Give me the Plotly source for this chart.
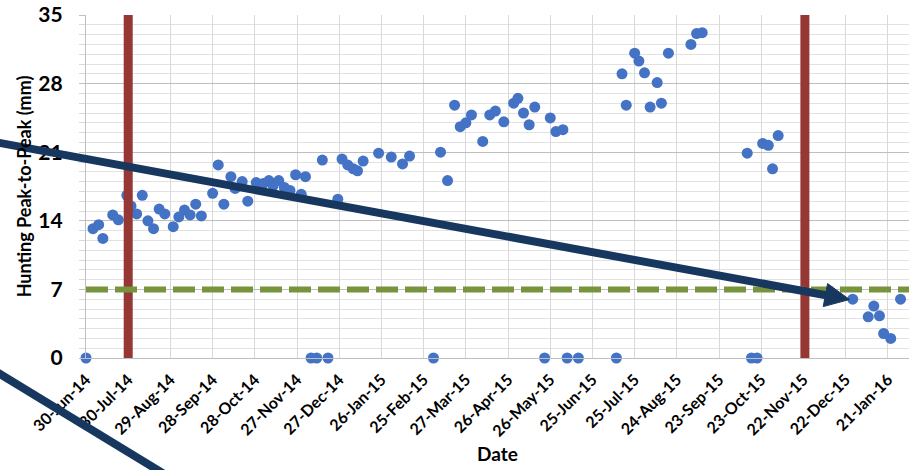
import pandas as pd
import plotly.graph_objects as go

# Measured hunting amplitude per inspection date
dates = [
    "2014-06-30", "2014-07-05", "2014-07-09", "2014-07-12", "2014-07-19", "2014-07-23",
    "2014-07-29", "2014-08-01", "2014-08-05", "2014-08-09", "2014-08-13", "2014-08-17",
    "2014-08-21", "2014-08-25", "2014-08-31", "2014-09-04", "2014-09-08", "2014-09-12",
    "2014-09-16", "2014-09-20", "2014-09-28", "2014-10-02", "2014-10-06", "2014-10-11",
    "2014-10-14", "2014-10-19", "2014-10-23", "2014-10-29", "2014-11-03", "2014-11-07",
    "2014-11-10", "2014-11-14", "2014-11-18", "2014-11-22", "2014-11-26", "2014-11-30",
    "2014-12-03", "2014-12-07", "2014-12-11", "2014-12-15", "2014-12-19", "2014-12-26",
    "2014-12-29", "2015-01-02", "2015-01-06", "2015-01-09", "2015-01-13", "2015-01-24",
    "2015-02-02", "2015-02-10", "2015-02-15", "2015-03-04", "2015-03-09", "2015-03-14",
    "2015-03-19", "2015-03-23", "2015-03-27", "2015-03-31", "2015-04-08", "2015-04-13",
    "2015-04-17", "2015-04-23", "2015-04-30", "2015-05-03", "2015-05-07", "2015-05-11",
    "2015-05-15", "2015-05-22", "2015-05-26", "2015-05-30", "2015-06-04", "2015-06-07",
    "2015-06-15", "2015-07-12", "2015-07-16", "2015-07-19", "2015-07-25", "2015-07-28",
    "2015-08-01", "2015-08-05", "2015-08-10", "2015-08-13", "2015-08-18", "2015-09-03",
    "2015-09-07", "2015-09-11", "2015-10-13", "2015-10-16", "2015-10-20", "2015-10-24",
    "2015-10-28", "2015-10-31", "2015-11-04", "2015-12-27", "2016-01-07", "2016-01-11",
    "2016-01-15", "2016-01-18", "2016-01-23", "2016-01-30",
]
peak_to_peak_mm = [
    0.0, 13.2, 13.6, 12.2, 14.6, 14.1,
    16.6, 15.5, 14.7, 16.6, 14.0, 13.2,
    15.2, 14.7, 13.4, 14.4, 15.1, 14.6,
    15.7, 14.5, 16.8, 19.7, 15.7, 18.5,
    17.3, 18.0, 16.0, 17.9, 17.8, 18.1,
    17.6, 18.1, 17.4, 17.1, 18.7, 16.7,
    18.5, 0.0, 0.0, 20.2, 0.0, 16.2,
    20.3, 19.7, 19.3, 19.1, 20.1, 20.9,
    20.5, 19.8, 20.6, 0.0, 21.0, 18.1,
    25.8, 23.6, 24.0, 24.8, 22.1, 24.8,
    25.2, 24.1, 26.0, 26.5, 25.0, 23.8,
    25.6, 0.0, 24.5, 23.1, 23.3, 0.0,
    0.0, 0.0, 29.0, 25.8, 31.1, 30.3,
    29.1, 25.6, 28.1, 26.0, 31.1, 32.0,
    33.1, 33.2, 20.9, 0.0, 0.0, 21.9,
    21.7, 19.3, 22.7, 6.0, 4.2, 5.3,
    4.3, 2.5, 2.0, 6.0,
]

# Maintenance events and the acceptance limit
event_dates = ["2014-07-30", "2015-11-23"]
limit_mm = 7

tick_labels = [
    "30-Jun-14", "30-Jul-14", "29-Aug-14", "28-Sep-14", "28-Oct-14", "27-Nov-14",
    "27-Dec-14", "26-Jan-15", "25-Feb-15", "27-Mar-15", "26-Apr-15", "26-May-15",
    "25-Jun-15", "25-Jul-15", "24-Aug-15", "23-Sep-15", "23-Oct-15", "22-Nov-15",
    "22-Dec-15", "21-Jan-16",
]
tick_dates = pd.to_datetime(tick_labels, format="%d-%b-%y")

x_range = ["2014-06-30", "2016-02-05"]
y_range = [0, 35]

W, H = 910, 470
ML, MR, MT, MB = 86, 1, 15, 112
PW, PH = W - ML - MR, H - MT - MB


def to_paper(px, py):
    return (px - ML) / PW, (MT + PH - py) / PH


NAVY = "#17375E"
BOLD = dict(family="Lato, Arial, sans-serif", color="#000000", weight="bold")

fig = go.Figure()

fig.add_trace(go.Scatter(
    x=dates, y=peak_to_peak_mm, mode="markers",
    marker=dict(color="#4472C4", size=11, line=dict(width=0)),
    cliponaxis=False, showlegend=False,
))

for d in event_dates:
    fig.add_trace(go.Scatter(
        x=[d, d], y=y_range, mode="lines",
        line=dict(color="#953735", width=9),
        showlegend=False, hoverinfo="skip",
    ))

fig.add_trace(go.Scatter(
    x=x_range, y=[limit_mm, limit_mm], mode="lines",
    line=dict(color="#77933C", width=6, dash="22px,7px"),
    showlegend=False, hoverinfo="skip",
))

# Trend arrow across the chart
tail = to_paper(-10, 141.2)
base = to_paper(826, 295.2)
fig.add_shape(type="line", xref="paper", yref="paper",
              x0=tail[0], y0=tail[1], x1=base[0], y1=base[1],
              line=dict(color=NAVY, width=8), layer="above")
tip = to_paper(849.5, 299.5)
b1 = to_paper(827.6, 283.6)
b2 = to_paper(823.2, 306.6)
fig.add_shape(type="path", xref="paper", yref="paper",
              path=f"M {tip[0]},{tip[1]} L {b1[0]},{b1[1]} L {b2[0]},{b2[1]} Z",
              fillcolor=NAVY, line=dict(color=NAVY, width=1), layer="above")

# Second arrow leaving the lower edge
s0 = to_paper(-10, 367.9)
s1 = to_paper(175, 480.6)
fig.add_shape(type="line", xref="paper", yref="paper",
              x0=s0[0], y0=s0[1], x1=s1[0], y1=s1[1],
              line=dict(color=NAVY, width=8), layer="above")

fig.update_layout(
    width=W, height=H,
    margin=dict(l=ML, r=MR, t=MT, b=MB, pad=0),
    paper_bgcolor="white", plot_bgcolor="white",
    font=BOLD,
    showlegend=False,
)

fig.update_xaxes(
    type="date", range=x_range,
    tickmode="array", tickvals=tick_dates, ticktext=tick_labels,
    tickangle=-45, tickfont=dict(size=16, **BOLD),
    ticklabelstandoff=5,
    showgrid=True, gridcolor="#D9D9D9", gridwidth=1.3,
    showline=True, linecolor="#BFBFBF", linewidth=1.3,
    zeroline=False, ticks="",
    title=dict(text="Date", font=dict(size=19, **BOLD), standoff=8),
)

fig.update_yaxes(
    range=y_range, tick0=0, dtick=7,
    tickfont=dict(size=21, **BOLD),
    ticks="outside", ticklen=6, tickcolor="#BFBFBF", tickwidth=1.2,
    ticklabelstandoff=12,
    showgrid=True, gridcolor="#BFBFBF", gridwidth=1.3,
    minor=dict(dtick=1, showgrid=True, gridcolor="#E2E2E2", gridwidth=1.2,
               ticks="outside", ticklen=6, tickcolor="#D9D9D9"),
    showline=True, linecolor="#BFBFBF", linewidth=1.3,
    zeroline=False,
    title=dict(text="Hunting Peak-to-Peak (mm)", font=dict(size=18, **BOLD), standoff=1),
)

fig.write_html("out.html")
